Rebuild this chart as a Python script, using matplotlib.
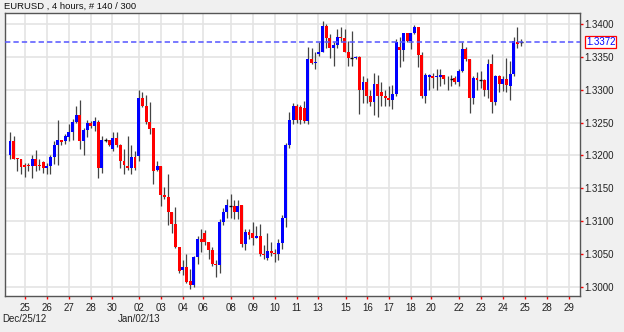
import matplotlib
matplotlib.use("Agg")
import matplotlib.pyplot as plt
import numpy as np

TITLE = "EURUSD , 4 hours, # 140 / 300"
LAST_PRICE = 1.3372

# 4h candles (oldest first)
OPENS = [
    1.3200, 1.3222, 1.3196, 1.3194, 1.3186, 1.3186, 1.3184, 1.3194, 1.3186, 1.3190,
    1.3181, 1.3184, 1.3197, 1.3215, 1.3223, 1.3222, 1.3228, 1.3235, 1.3251, 1.3261,
    1.3222, 1.3239, 1.3249, 1.3245, 1.3251, 1.3181, 1.3223, 1.3223, 1.3210, 1.3227,
    1.3215, 1.3192, 1.3184, 1.3181, 1.3197, 1.3199, 1.3287, 1.3275, 1.3251, 1.3241,
    1.3177, 1.3184, 1.3140, 1.3136, 1.3113, 1.3095, 1.3060, 1.3026, 1.3030, 1.3009,
    1.3002, 1.3045, 1.3072, 1.3082, 1.3068, 1.3055, 1.3035, 1.3033, 1.3099, 1.3113,
    1.3123, 1.3123, 1.3114, 1.3124, 1.3065, 1.3083, 1.3082, 1.3074, 1.3077, 1.3050,
    1.3044, 1.3054, 1.3051, 1.3050, 1.3067, 1.3104, 1.3215, 1.3254, 1.3275, 1.3273,
    1.3272, 1.3253, 1.3346, 1.3340, 1.3354, 1.3358, 1.3397, 1.3379, 1.3364, 1.3368,
    1.3381, 1.3379, 1.3358, 1.3348, 1.3348, 1.3350, 1.3300, 1.3311, 1.3290, 1.3281,
    1.3309, 1.3297, 1.3290, 1.3288, 1.3285, 1.3293, 1.3365, 1.3360, 1.3386, 1.3374,
    1.3386, 1.3396, 1.3353, 1.3290, 1.3320, 1.3321, 1.3319, 1.3319, 1.3323, 1.3316,
    1.3317, 1.3318, 1.3311, 1.3328, 1.3362, 1.3346, 1.3288, 1.3318, 1.3315, 1.3315,
    1.3300, 1.3339, 1.3282, 1.3321, 1.3308, 1.3317, 1.3306, 1.3324, 1.3373, 1.3372,
]
HIGHS = [
    1.3235, 1.3229, 1.3196, 1.3194, 1.3188, 1.3188, 1.3201, 1.3208, 1.3194, 1.3191,
    1.3188, 1.3201, 1.3222, 1.3254, 1.3224, 1.3233, 1.3247, 1.3256, 1.3275, 1.3285,
    1.3242, 1.3254, 1.3252, 1.3259, 1.3254, 1.3229, 1.3226, 1.3224, 1.3235, 1.3236,
    1.3217, 1.3210, 1.3229, 1.3215, 1.3206, 1.3300, 1.3296, 1.3292, 1.3282, 1.3242,
    1.3191, 1.3184, 1.3152, 1.3171, 1.3114, 1.3122, 1.3061, 1.3041, 1.3050, 1.3027,
    1.3047, 1.3077, 1.3088, 1.3086, 1.3068, 1.3060, 1.3040, 1.3103, 1.3120, 1.3134,
    1.3141, 1.3132, 1.3132, 1.3124, 1.3088, 1.3088, 1.3099, 1.3093, 1.3096, 1.3063,
    1.3081, 1.3068, 1.3058, 1.3073, 1.3109, 1.3219, 1.3266, 1.3280, 1.3278, 1.3277,
    1.3283, 1.3365, 1.3363, 1.3357, 1.3372, 1.3405, 1.3400, 1.3385, 1.3372, 1.3392,
    1.3395, 1.3392, 1.3374, 1.3389, 1.3351, 1.3351, 1.3321, 1.3318, 1.3300, 1.3326,
    1.3323, 1.3311, 1.3300, 1.3306, 1.3307, 1.3377, 1.3380, 1.3387, 1.3387, 1.3387,
    1.3398, 1.3396, 1.3357, 1.3326, 1.3324, 1.3326, 1.3331, 1.3331, 1.3323, 1.3321,
    1.3323, 1.3321, 1.3331, 1.3372, 1.3365, 1.3346, 1.3321, 1.3327, 1.3329, 1.3316,
    1.3346, 1.3355, 1.3323, 1.3323, 1.3321, 1.3349, 1.3344, 1.3380, 1.3395, 1.3377,
]
LOWS = [
    1.3194, 1.3194, 1.3176, 1.3172, 1.3167, 1.3176, 1.3165, 1.3176, 1.3178, 1.3173,
    1.3171, 1.3171, 1.3187, 1.3186, 1.3215, 1.3217, 1.3222, 1.3223, 1.3249, 1.3209,
    1.3201, 1.3228, 1.3242, 1.3237, 1.3165, 1.3173, 1.3220, 1.3214, 1.3206, 1.3213,
    1.3181, 1.3172, 1.3178, 1.3172, 1.3178, 1.3191, 1.3273, 1.3247, 1.3233, 1.3156,
    1.3176, 1.3123, 1.3133, 1.3094, 1.3081, 1.3059, 1.3020, 1.3017, 1.3005, 1.2996,
    1.3000, 1.3035, 1.3053, 1.3063, 1.3042, 1.3031, 1.3014, 1.3021, 1.3094, 1.3104,
    1.3104, 1.3103, 1.3103, 1.3060, 1.3055, 1.3073, 1.3063, 1.3074, 1.3047, 1.3042,
    1.3040, 1.3047, 1.3038, 1.3041, 1.3058, 1.3091, 1.3211, 1.3247, 1.3249, 1.3248,
    1.3249, 1.3248, 1.3339, 1.3331, 1.3351, 1.3358, 1.3364, 1.3349, 1.3336, 1.3364,
    1.3372, 1.3357, 1.3336, 1.3336, 1.3347, 1.3263, 1.3280, 1.3280, 1.3275, 1.3262,
    1.3259, 1.3275, 1.3275, 1.3275, 1.3270, 1.3290, 1.3334, 1.3344, 1.3372, 1.3362,
    1.3385, 1.3334, 1.3288, 1.3280, 1.3300, 1.3303, 1.3300, 1.3306, 1.3308, 1.3300,
    1.3306, 1.3308, 1.3306, 1.3327, 1.3344, 1.3265, 1.3278, 1.3300, 1.3302, 1.3290,
    1.3287, 1.3265, 1.3277, 1.3297, 1.3298, 1.3297, 1.3285, 1.3321, 1.3364, 1.3367,
]
CLOSES = [
    1.3222, 1.3195, 1.3194, 1.3182, 1.3182, 1.3183, 1.3194, 1.3184, 1.3183, 1.3181,
    1.3184, 1.3197, 1.3215, 1.3223, 1.3221, 1.3229, 1.3235, 1.3251, 1.3261, 1.3222,
    1.3239, 1.3249, 1.3245, 1.3252, 1.3181, 1.3223, 1.3223, 1.3216, 1.3226, 1.3216,
    1.3192, 1.3186, 1.3181, 1.3197, 1.3181, 1.3287, 1.3275, 1.3251, 1.3240, 1.3176,
    1.3184, 1.3140, 1.3136, 1.3113, 1.3095, 1.3060, 1.3024, 1.3030, 1.3007, 1.3002,
    1.3045, 1.3072, 1.3068, 1.3068, 1.3055, 1.3035, 1.3033, 1.3099, 1.3113, 1.3124,
    1.3123, 1.3114, 1.3123, 1.3065, 1.3083, 1.3078, 1.3074, 1.3077, 1.3050, 1.3048,
    1.3054, 1.3051, 1.3049, 1.3067, 1.3104, 1.3215, 1.3254, 1.3275, 1.3254, 1.3254,
    1.3253, 1.3346, 1.3340, 1.3342, 1.3358, 1.3397, 1.3379, 1.3363, 1.3368, 1.3381,
    1.3379, 1.3358, 1.3348, 1.3348, 1.3350, 1.3300, 1.3311, 1.3290, 1.3281, 1.3309,
    1.3290, 1.3290, 1.3288, 1.3285, 1.3293, 1.3372, 1.3360, 1.3386, 1.3374, 1.3386,
    1.3396, 1.3353, 1.3290, 1.3323, 1.3322, 1.3318, 1.3321, 1.3323, 1.3316, 1.3317,
    1.3317, 1.3311, 1.3328, 1.3362, 1.3346, 1.3288, 1.3318, 1.3315, 1.3315, 1.3300,
    1.3339, 1.3282, 1.3321, 1.3308, 1.3317, 1.3307, 1.3324, 1.3374, 1.3370, 1.3372,
]

# day separators, in bar units
DAY_TICKS = [4, 10, 16, 22, 27.7, 35.2, 41, 47, 52.4, 60, 66, 72, 78, 83.7,
             91.3, 97.2, 103, 109, 114.5, 122, 128, 134, 140, 146, 152]
DAY_LABELS = ["25", "26", "27", "28", "30", "02", "03", "04", "06", "08", "09",
              "10", "11", "13", "15", "16", "17", "18", "20", "22", "23", "24",
              "25", "28", "29"]
DATE_TICKS = [4, 35.2]
DATE_LABELS = ["Dec/25/12", "Jan/02/13"]
PRICE_TICKS = [1.3000, 1.3050, 1.3100, 1.3150, 1.3200, 1.3250, 1.3300, 1.3350, 1.3400]

plt.rcParams["font.family"] = ["Liberation Sans", "DejaVu Sans"]

fig = plt.figure(figsize=(6.24, 3.32), dpi=100, facecolor="#f0f0f0")
ax = fig.add_axes([4.7 / 624, 35.7 / 332, 575.6 / 624, 283.6 / 332])

o, h, l, c = (np.array(a) for a in (OPENS, HIGHS, LOWS, CLOSES))
x = np.arange(len(o))
w = 0.8

ax.vlines(x, l, h, color="#444444", lw=0.9, zorder=2)
up = c > o
dn = c < o
eq = c == o
ax.bar(x[up], (c - o)[up], bottom=o[up], width=w, color="#0000ff", lw=0, zorder=3)
ax.bar(x[dn], (o - c)[dn], bottom=c[dn], width=w, color="#ff0000", lw=0, zorder=3)
ax.hlines(c[eq], x[eq] - w / 2, x[eq] + w / 2, color="black", lw=1, zorder=3)

ax.axhline(LAST_PRICE, color="#5555ff", lw=1.1, ls=(0, (3.5, 2)), zorder=4)

ax.set_xlim(-1.44, 155.1)
ax.set_ylim(1.29852, 1.34173)
ax.yaxis.tick_right()
ax.set_yticks(PRICE_TICKS, [f"{v:.4f}" for v in PRICE_TICKS])
ax.set_xticks(DAY_TICKS, DAY_LABELS)
ax.tick_params(axis="x", colors="red", labelcolor="#222222", length=1.8, width=1,
               labelsize=7, pad=3)
ax.tick_params(axis="y", colors="red", labelcolor="#222222", length=2.4, width=1,
               labelsize=7, pad=0.8)
ax.grid(color="#e4e4e4", lw=1.2)
ax.set_axisbelow(True)
for s in ax.spines.values():
    s.set_color("#555555")
    s.set_linewidth(1)

ax.annotate(f"{LAST_PRICE:.4f}", xy=(1, LAST_PRICE), xycoords=("axes fraction", "data"),
            xytext=(4.1, 0), textcoords="offset points", ha="left", va="center",
            fontsize=7, color="#0000ff",
            bbox=dict(boxstyle="square,pad=0.1", fc="white", ec="red", lw=0.9))

for t, lab in zip(DATE_TICKS, DATE_LABELS):
    ax.annotate(lab, xy=(t, 0), xycoords=("data", "axes fraction"),
                xytext=(0, -16.3), textcoords="offset points",
                ha="center", va="center", fontsize=7, color="#222222")

fig.text(4.5 / 624, 1 - 6.5 / 332, TITLE, fontsize=6.8, va="center", ha="left",
         color="#111111")

fig.savefig("out.png", dpi=100, facecolor=fig.get_facecolor())
